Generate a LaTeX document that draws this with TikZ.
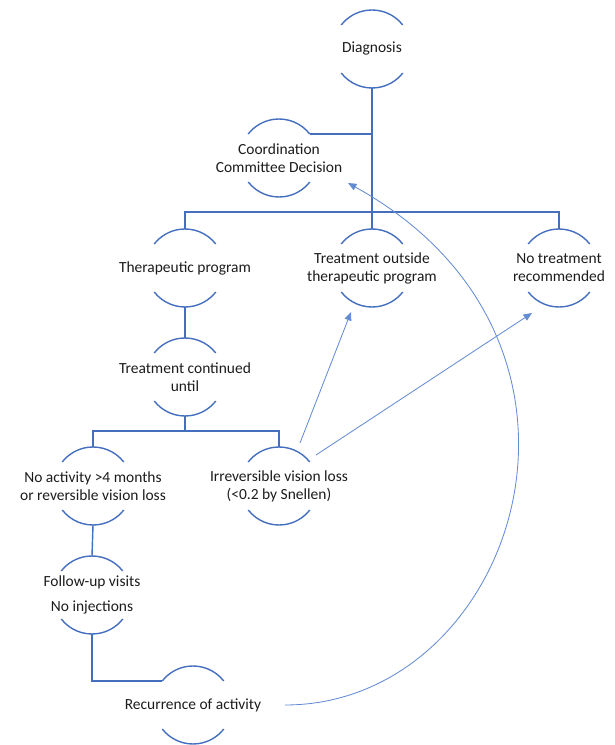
\documentclass[tikz,border=0pt]{standalone}
\usepackage{fontspec}
\setmainfont{Carlito}
\usetikzlibrary{calc,arrows.meta}
\definecolor{boxblue}{RGB}{68,110,190}
\definecolor{linkblue}{RGB}{100,140,212}
\definecolor{inktext}{RGB}{28,28,28}

\begin{document}
\begin{tikzpicture}[x=0.025cm,y=0.025cm,
  stage/.style={align=center,font=\fontsize{11}{12.8}\selectfont,text=inktext,inner sep=0pt},
  tree/.style={draw=boxblue,line width=1pt},
  rim/.style={draw=boxblue,line width=1pt,radius=0.975cm},
  jump/.style={draw=linkblue,line width=0.6pt,-{Triangle[length=6pt,width=5pt]}}]
  \useasboundingbox (0,0) rectangle (615,745);
  \node[stage] (diag) at (372,696) {Diagnosis};
  \node[stage] (coord) at (279,587) {Coordination\\Committee Decision};
  \node[stage] (therap) at (185,477) {Therapeutic program};
  \node[stage] (outside) at (372,477) {Treatment outside\\therapeutic program};
  \node[stage] (notreat) at (559,477) {No treatment\\recommended};
  \node[stage] (contin) at (185,368) {Treatment continued\\until};
  \node[stage] (noact) at (93,259) {No activity >4 months\\or reversible vision loss};
  \node[stage] (irrev) at (279,259) {Irreversible vision loss\\(<0.2 by Snellen)};
  \node[stage] (follow) at (92,150) {Follow-up visits\\[5pt]No injections};
  \node[stage] (recur) at (193,40) {Recurrence of activity};
  \foreach \n in {diag,coord,therap,outside,notreat,contin,noact,irrev,follow,recur} {
    \draw[rim] ($(\n)+(38:39)$) arc[start angle=38,end angle=142];
    \draw[rim] ($(\n)+(218:39)$) arc[start angle=218,end angle=322];
    \coordinate (\n-t) at ($(\n)+(0,39)$);
    \coordinate (\n-b) at ($(\n)+(0,-39)$);
  }
  \coordinate (coord-tr) at ($(coord)+(38:39)$);
  \coordinate (recur-tl) at ($(recur)+(142:39)$);
  \coordinate (bus1) at ($(diag-b)+(0,-124)$);
  \coordinate (bus2) at ($(contin-b)+(0,-15)$);
  \draw[tree] (diag-b) -- (outside-t);
  \draw[tree] (coord-tr) -| (diag-b);
  \draw[tree] (therap-t) |- (bus1) -| (notreat-t);
  \draw[tree] (therap-b) -- (contin-t);
  \draw[tree] (contin-b) -- (bus2);
  \draw[tree] (noact-t) |- (bus2) -| (irrev-t);
  \draw[tree] (noact-b) -- (follow-t);
  \draw[tree] (follow-b) |- (recur-tl);
  \draw[jump] ($(irrev)+(21,43)$) -- ($(outside)+(-21,-44)$);
  \draw[jump] ($(irrev)+(37,31)$) -- ($(notreat)+(-27,-45)$);
  \draw[jump] ($(recur)+(92,0)$) .. controls ($(recur)+(322,0)$) and ($(coord)+(358,-185)$) .. ($(coord)+(69,-25)$);
\end{tikzpicture}
\end{document}
